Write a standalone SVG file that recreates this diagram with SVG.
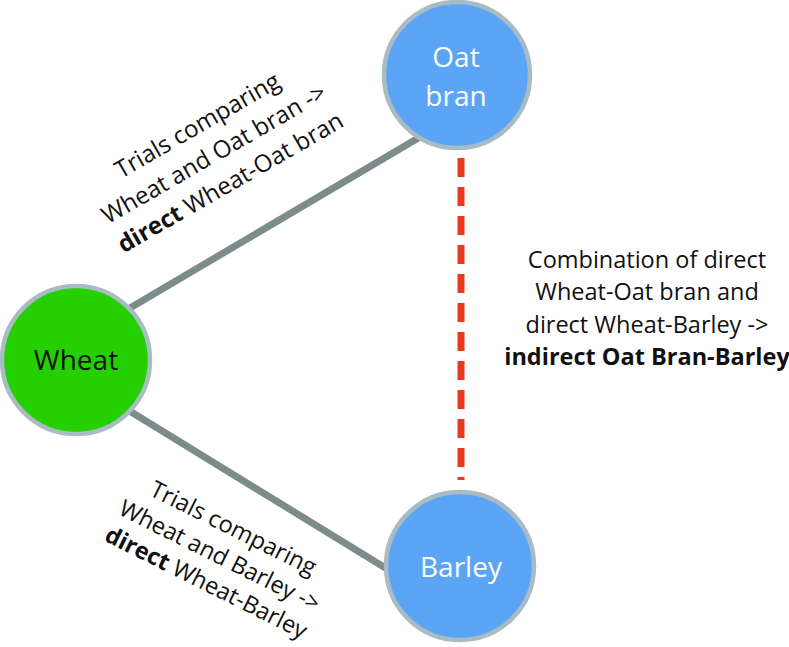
<svg xmlns="http://www.w3.org/2000/svg" width="789" height="647" viewBox="0 0 789 647">
<style>
.node{stroke:#a9bcc3;stroke-width:4.5}
.blue{fill:#5ba4f6}
.green{fill:#25d000}
.edge{stroke:#7d8b8b;stroke-width:7;fill:none}
.dash{stroke:#e8391e;stroke-width:7;stroke-dasharray:19 10;fill:none}
text{font-family:"Open Sans","Noto Sans",sans-serif;}
.nl{font-size:28px;text-anchor:middle}
.lbl{font-size:23.5px;text-anchor:middle;fill:#111}
.rl{font-size:24px;text-anchor:middle;fill:#111}
.b{font-weight:bold}
</style>
<rect width="789" height="647" fill="#ffffff"/>
<g id="connectors">
<line class="edge" x1="130" y1="308" x2="420" y2="137"/>
<line class="edge" x1="128" y1="410" x2="392" y2="572"/>
<line class="dash" x1="461" y1="158" x2="461" y2="480"/>
</g>
<g id="oat-bran">
<circle class="node blue" cx="457" cy="75" r="73"/>
<text class="nl" x="456" y="67" fill="#ffffff">Oat</text>
<text class="nl" x="456" y="106" fill="#ffffff">bran</text>
</g>
<g id="wheat">
<circle class="node green" cx="76" cy="360" r="74"/>
<text class="nl" x="76" y="370" fill="#111111">Wheat</text>
</g>
<g id="barley">
<circle class="node blue" cx="460" cy="566" r="74"/>
<text class="nl" x="461" y="577" fill="#ffffff">Barley</text>
</g>
<g id="label-wheat-oat" transform="translate(218,161) rotate(-30)">
<text class="rl" x="0" y="-33">Trials comparing</text>
<text class="rl" x="0" y="0">Wheat and Oat bran -&gt;</text>
<text class="rl" x="0" y="33"><tspan class="b">direct</tspan> Wheat-Oat bran</text>
</g>
<g id="label-wheat-barley" transform="translate(216,563) rotate(26.5)">
<text class="lbl" x="0" y="-31">Trials comparing</text>
<text class="lbl" x="0" y="0">Wheat and Barley -&gt;</text>
<text class="lbl" x="0" y="30"><tspan class="b">direct</tspan> Wheat-Barley</text>
</g>
<g id="label-indirect">
<text class="lbl" x="647" y="268">Combination of direct</text>
<text class="lbl" x="647" y="300">Wheat-Oat bran and</text>
<text class="lbl" x="647" y="333">direct Wheat-Barley -&gt;</text>
<text class="lbl b" x="647" y="365">indirect Oat Bran-Barley</text>
</g>
</svg>
